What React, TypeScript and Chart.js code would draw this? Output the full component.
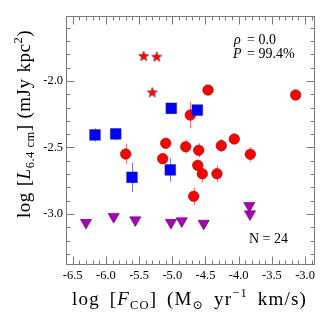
import React, { useEffect, useRef } from 'react';
import { Chart, registerables } from 'chart.js';

Chart.register(...registerables);

// ---- data ----
const starX = [-5.431, -5.235, -5.301];
const starY = [-1.812, -1.817, -2.085];

const circleX = [-4.462, -3.142, -4.729, -5.702, -5.099, -5.145, -4.798, -4.602, -4.262, -4.066, -3.825, -4.617, -4.548, -4.327, -4.678];
const circleY = [-2.068, -2.105, -2.256, -2.549, -2.468, -2.584, -2.494, -2.521, -2.486, -2.436, -2.551, -2.634, -2.697, -2.697, -2.867];
const circleErr = [0.02, 0.03, 0.10, 0.076, 0.04, 0.04, 0.05, 0.054, 0.05, 0.03, 0.054, 0.03, 0.062, 0.066, 0.066];

const squareX = [-5.015, -4.623, -6.164, -5.852, -5.607, -5.030];
const squareY = [-2.205, -2.218, -2.406, -2.398, -2.724, -2.669];
const squareErr = [0.02, 0.02, 0.05, 0.045, 0.11, 0.088];

const limitX = [-6.300, -5.883, -5.557, -5.020, -4.858, -4.527, -3.840, -3.830];
const limitY = [-3.065, -3.020, -3.046, -3.065, -3.053, -3.071, -2.938, -3.001];

const xTicks = [-6.5, -6.0, -5.5, -5.0, -4.5, -4.0, -3.5, -3.0];
const yTicks = [-3.0, -2.5, -2.0];
const xMin = -6.601;
const xMax = -2.858;
const yMin = -3.38;
const yMax = -1.511;

const rhoText = '= 0.0';
const pText = '= 99.4%';
const nText = 'N = 24';

const FONT = "'Liberation Serif', 'DejaVu Serif', serif";

type Seg = { t: string; size: number; italic?: boolean; dy?: number; gap?: boolean };

function segFont(s: Seg) {
  return `${s.italic ? 'italic ' : ''}${s.size}px ${FONT}`;
}

function setLS(ctx: any, v: number) {
  if ('letterSpacing' in ctx) ctx.letterSpacing = `${v}px`;
}

// draws segments; extra room up to `target` is shared by segments flagged `gap`
function drawRich(
  ctx: CanvasRenderingContext2D,
  segs: Seg[],
  x: number,
  y: number,
  align: 'left' | 'center',
  target?: number,
  ls = 0
) {
  setLS(ctx, 0);
  const widths = segs.map((s) => {
    ctx.font = segFont(s);
    return ctx.measureText(s.t).width + ls * s.t.length;
  });
  const w = widths.reduce((p, c) => p + c, 0);
  const nGaps = segs.filter((s) => s.gap).length;
  const extra = target && nGaps ? Math.max(0, (target - w) / nGaps) : 0;
  const total = w + extra * nGaps;
  let cx = align === 'center' ? x - total / 2 : x;
  ctx.textAlign = 'left';
  ctx.textBaseline = 'alphabetic';
  setLS(ctx, ls);
  segs.forEach((s, i) => {
    if (s.gap) cx += extra;
    ctx.font = segFont(s);
    ctx.fillText(s.t, cx, y + (s.dy || 0));
    cx += widths[i];
  });
  setLS(ctx, 0);
}

function makeStar(): HTMLCanvasElement {
  const c = document.createElement('canvas');
  c.width = 14;
  c.height = 14;
  const g = c.getContext('2d')!;
  const R = 5.4;
  const r = 2.2;
  g.beginPath();
  for (let i = 0; i < 10; i++) {
    const rad = i % 2 === 0 ? R : r;
    const a = -Math.PI / 2 + (i * Math.PI) / 5;
    const px = 7 + rad * Math.cos(a);
    const py = 7.4 + rad * Math.sin(a);
    if (i === 0) g.moveTo(px, py);
    else g.lineTo(px, py);
  }
  g.closePath();
  g.fillStyle = '#ff0000';
  g.fill();
  g.strokeStyle = 'rgba(90,0,0,0.8)';
  g.lineWidth = 0.6;
  g.stroke();
  return c;
}

const decorPlugin = {
  id: 'decor',
  beforeDatasetsDraw(chart: any) {
    const ctx: CanvasRenderingContext2D = chart.ctx;
    const xs = chart.scales.x;
    const ys = chart.scales.y;
    ctx.save();
    ctx.lineWidth = 1;
    ctx.strokeStyle = 'rgba(255,70,70,0.75)';
    circleX.forEach((xv, i) => {
      const px = Math.round(xs.getPixelForValue(xv)) + 0.5;
      ctx.beginPath();
      ctx.moveTo(px, ys.getPixelForValue(circleY[i] + circleErr[i]));
      ctx.lineTo(px, ys.getPixelForValue(circleY[i] - circleErr[i]));
      ctx.stroke();
    });
    ctx.strokeStyle = 'rgba(80,80,255,0.8)';
    squareX.forEach((xv, i) => {
      const px = Math.round(xs.getPixelForValue(xv)) + 0.5;
      ctx.beginPath();
      ctx.moveTo(px, ys.getPixelForValue(squareY[i] + squareErr[i]));
      ctx.lineTo(px, ys.getPixelForValue(squareY[i] - squareErr[i]));
      ctx.stroke();
    });
    ctx.restore();
  },
  afterDraw(chart: any) {
    const ctx: CanvasRenderingContext2D = chart.ctx;
    const a = chart.chartArea;
    const xs = chart.scales.x;
    const ys = chart.scales.y;
    ctx.save();
    ctx.strokeStyle = '#7a7a7a';
    ctx.lineWidth = 1;
    const L = Math.round(a.left) + 0.5;
    const R = Math.round(a.right) - 0.5;
    const T = Math.round(a.top) + 0.5;
    const B = Math.round(a.bottom) - 0.5;
    ctx.strokeRect(L, T, R - L, B - T);
    ctx.beginPath();
    for (let k = -66; k <= -28; k++) {
      const v = k / 10;
      if (v < xMin || v > xMax) continue;
      const major = k % 5 === 0;
      const len = major ? 8 : 4;
      const px = Math.round(xs.getPixelForValue(v)) + 0.5;
      ctx.moveTo(px, B);
      ctx.lineTo(px, B - len);
      ctx.moveTo(px, T);
      ctx.lineTo(px, T + len);
    }
    for (let k = -34; k <= -15; k++) {
      const v = k / 10;
      if (v < yMin || v > yMax) continue;
      const major = k % 5 === 0;
      const len = major ? 8 : 4;
      const py = Math.round(ys.getPixelForValue(v)) + 0.5;
      ctx.moveTo(L, py);
      ctx.lineTo(L + len, py);
      ctx.moveTo(R, py);
      ctx.lineTo(R - len, py);
    }
    ctx.stroke();

    ctx.fillStyle = '#000';
    const T1 = 19;
    const T2 = 12.5;
    drawRich(
      ctx,
      [
        { t: 'log ', size: T1 },
        { t: '[', size: T1, gap: true },
        { t: 'F', size: T1, italic: true },
        { t: 'CO', size: T2, dy: 4 },
        { t: '] ', size: T1 },
        { t: '(M', size: T1, gap: true },
        { t: '\u2299', size: T2, dy: 4 },
        { t: ' yr', size: T1, gap: true },
        { t: '\u22121', size: T2, dy: -8 },
        { t: ' km/s)', size: T1, gap: true },
      ],
      189.5,
      305,
      'center',
      235,
      1.2
    );
    ctx.save();
    ctx.translate(30, 124);
    ctx.rotate(-Math.PI / 2);
    drawRich(
      ctx,
      [
        { t: 'log ', size: T1 },
        { t: '[', size: T1, gap: true },
        { t: 'L', size: T1, italic: true },
        { t: '6.4 cm', size: T2, dy: 4 },
        { t: '] ', size: T1 },
        { t: '(mJy', size: T1, gap: true },
        { t: ' kpc', size: T1, gap: true },
        { t: '2', size: T2, dy: -8 },
        { t: ')', size: T1 },
      ],
      0,
      0,
      'center',
      188,
      0.5
    );
    ctx.restore();

    drawRich(ctx, [{ t: '\u03C1', size: 14, italic: true }], 234, 44, 'left');
    drawRich(ctx, [{ t: rhoText, size: 14 }], 247, 44, 'left');
    drawRich(ctx, [{ t: 'P', size: 14, italic: true }], 233, 58, 'left');
    drawRich(ctx, [{ t: pText, size: 14 }], 247, 58, 'left');
    drawRich(ctx, [{ t: nText, size: 14 }], 249, 243, 'left');
    ctx.restore();
  },
};

export default function App() {
  const ref = useRef<HTMLCanvasElement | null>(null);
  useEffect(() => {
    if (!ref.current) return;
    const star = makeStar();
    const chart = new Chart(ref.current, {
      type: 'scatter',
      data: {
        datasets: [
          {
            label: 'squares',
            data: squareX.map((x, i) => ({ x, y: squareY[i] })),
            pointStyle: 'rect',
            pointRadius: 7.6,
            backgroundColor: '#0000ff',
            borderColor: 'rgba(40,40,110,0.7)',
            borderWidth: 0.7,
            order: 0,
          },
          {
            label: 'stars',
            data: starX.map((x, i) => ({ x, y: starY[i] })),
            pointStyle: star as any,
            pointRadius: 6,
            order: 1,
          },
          {
            label: 'circles',
            data: circleX.map((x, i) => ({ x, y: circleY[i] })),
            pointStyle: 'circle',
            pointRadius: 5.3,
            backgroundColor: '#ff0000',
            borderColor: 'rgba(100,20,20,0.75)',
            borderWidth: 0.7,
            order: 2,
          },
          {
            label: 'limits',
            data: limitX.map((x, i) => ({ x, y: limitY[i] })),
            pointStyle: 'triangle',
            rotation: 180,
            pointRadius: 6.5,
            backgroundColor: '#aa00bb',
            borderColor: 'rgba(80,0,90,0.8)',
            borderWidth: 0.7,
            order: 3,
          },
        ],
      },
      options: {
        animation: false,
        responsive: false,
        maintainAspectRatio: false,
        devicePixelRatio: 1,
        layout: { padding: { left: 0, top: 16, right: 17.5, bottom: 0 } },
        plugins: { legend: { display: false }, tooltip: { enabled: false } },
        elements: { point: { hoverRadius: 0 } },
        scales: {
          x: {
            type: 'linear',
            min: xMin,
            max: xMax,
            grid: { display: false, drawTicks: false },
            border: { display: false },
            ticks: {
              color: '#000',
              font: { family: FONT, size: 12.5 },
              padding: 4,
              maxRotation: 0,
              autoSkip: false,
              callback: (v: any) => Number(v).toFixed(1),
            },
            afterBuildTicks: (s: any) => {
              s.ticks = xTicks.map((v) => ({ value: v }));
            },
            afterFit: (s: any) => {
              s.height = 67.5;
            },
          },
          y: {
            type: 'linear',
            min: yMin,
            max: yMax,
            grid: { display: false, drawTicks: false },
            border: { display: false },
            ticks: {
              color: '#000',
              font: { family: FONT, size: 12.5 },
              padding: 3,
              autoSkip: false,
              callback: (v: any) => Number(v).toFixed(1),
            },
            afterBuildTicks: (s: any) => {
              s.ticks = yTicks.map((v) => ({ value: v }));
            },
            afterFit: (s: any) => {
              s.width = 66;
            },
          },
        },
      },
      plugins: [decorPlugin],
    });
    return () => chart.destroy();
  }, []);
  return (
    <div style={{ position: 'absolute', left: 0, top: 0, width: 332, height: 332, background: '#fff' }}>
      <canvas ref={ref} width={332} height={332} style={{ display: 'block' }} />
    </div>
  );
}
